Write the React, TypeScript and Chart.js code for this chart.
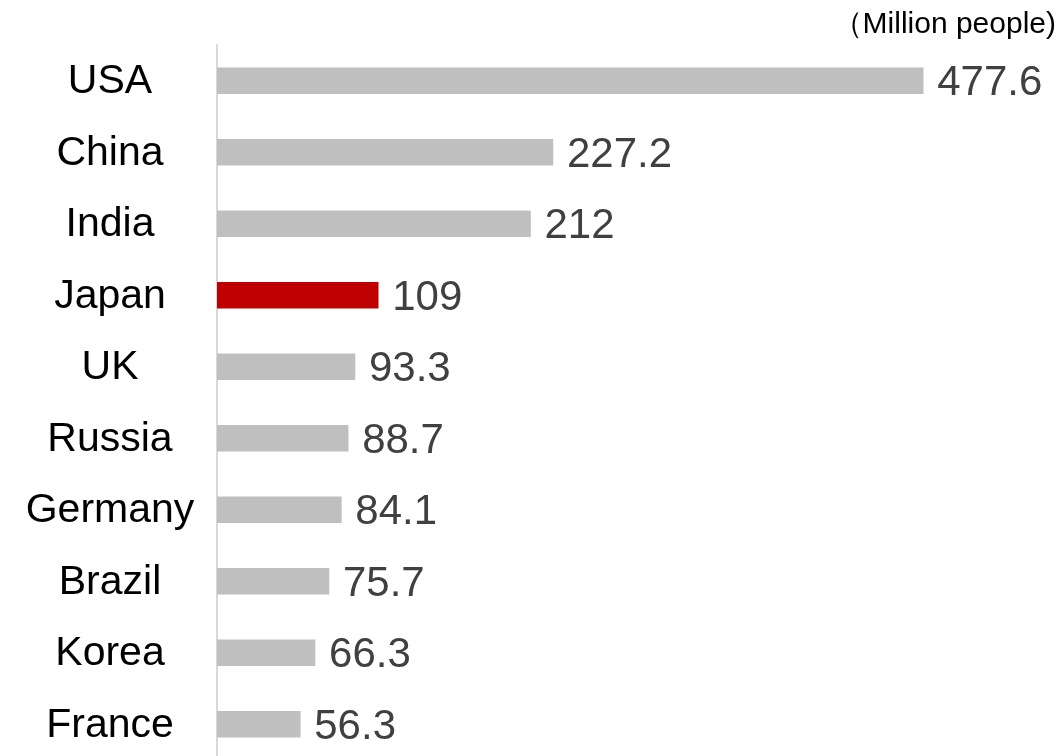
import React, { useEffect, useRef } from "react";
import { Chart, registerables } from "chart.js";

Chart.register(...registerables);

const categories = ["USA", "China", "India", "Japan", "UK", "Russia", "Germany", "Brazil", "Korea", "France"];
const values = [477.6, 227.2, 212, 109, 93.3, 88.7, 84.1, 75.7, 66.3, 56.3];
const valueLabels = ["477.6", "227.2", "212", "109", "93.3", "88.7", "84.1", "75.7", "66.3", "56.3"];
const highlight = "Japan";
const unitLabel = "（Million people)";

const FONT = "Arial, 'Liberation Sans', sans-serif";

export default function App() {
  const ref = useRef<HTMLCanvasElement | null>(null);

  useEffect(() => {
    if (!ref.current) return;
    const valuePlugin = {
      id: "valueLabels",
      afterDatasetsDraw(chart: any) {
        const ctx = chart.ctx;
        const meta = chart.getDatasetMeta(0);
        ctx.save();
        ctx.font = `42px ${FONT}`;
        ctx.fillStyle = "#404040";
        ctx.textAlign = "left";
        ctx.textBaseline = "middle";
        meta.data.forEach((bar: any, i: number) => {
          ctx.fillText(valueLabels[i], bar.x + 14, bar.y + 3);
        });
        ctx.restore();
      },
    };
    const categoryPlugin = {
      id: "categoryLabels",
      afterDraw(chart: any) {
        const ctx = chart.ctx;
        const yScale = chart.scales.y;
        ctx.save();
        ctx.font = `41px ${FONT}`;
        ctx.fillStyle = "#000000";
        ctx.textAlign = "center";
        ctx.textBaseline = "middle";
        categories.forEach((c, i) => {
          ctx.fillText(c, 110, yScale.getPixelForTick(i) + 1);
        });
        ctx.restore();
      },
    };
    const unitPlugin = {
      id: "unitLabel",
      afterDraw(chart: any) {
        const ctx = chart.ctx;
        ctx.save();
        ctx.font = `30px ${FONT}`;
        ctx.fillStyle = "#000000";
        ctx.textAlign = "right";
        ctx.textBaseline = "middle";
        ctx.fillText(unitLabel, 1056, 25);
        ctx.restore();
      },
    };
    const chart = new Chart(ref.current, {
      type: "bar",
      data: {
        labels: categories,
        datasets: [
          {
            data: values,
            backgroundColor: categories.map((c) => (c === highlight ? "#c00000" : "#bfbfbf")),
            barThickness: 26,
            borderWidth: 0,
          },
        ],
      },
      options: {
        indexAxis: "y",
        responsive: false,
        animation: false,
        layout: { padding: { top: 45, right: 18, left: 0, bottom: 0 } },
        plugins: { legend: { display: false }, tooltip: { enabled: false }, title: { display: false } },
        scales: {
          x: { display: false, min: 0, max: 560 },
          y: {
            grid: { display: false },
            border: { display: true, color: "#d9d9d9", width: 2 },
            afterFit: (scale: any) => {
              scale.width = 217;
            },
            ticks: { display: false },
          },
        },
      },
      plugins: [valuePlugin, categoryPlugin, unitPlugin],
    } as any);
    return () => chart.destroy();
  }, []);

  return (
    <div style={{ position: "fixed", left: 0, top: 0, width: 1063, height: 760, background: "#fff" }}>
      <canvas ref={ref} width={1063} height={760} style={{ width: 1063, height: 760 }} />
    </div>
  );
}
